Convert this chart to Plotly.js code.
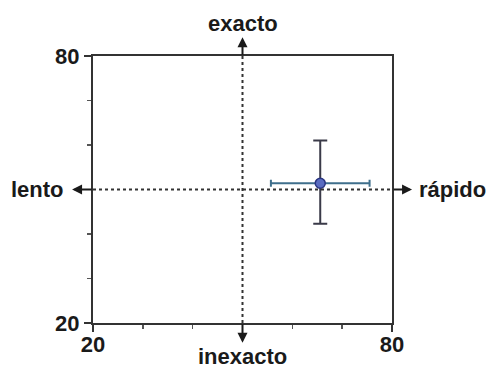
<!DOCTYPE html>
<html>
<head>
<meta charset="utf-8">
<script src="https://cdn.plot.ly/plotly-3.0.1.min.js"></script>
<style>html,body{margin:0;padding:0;background:#fff;}#chart{width:493px;height:368px;}</style>
</head>
<body>
<div id="chart"></div>
<script>
// Data
const speedValues = [65.6];
const accuracyValues = [51.4];
const speedErrPlus = [9.9];
const speedErrMinus = [9.9];
const accuracyErrPlus = [9.6];
const accuracyErrMinus = [9.1];
const axisTickValues = [20, 80];
const axisTickLabels = ['20', '80'];
const centerValue = 50;
const labelTop = 'exacto';
const labelBottom = 'inexacto';
const labelLeft = 'lento';
const labelRight = 'rápido';

const FONT = 'Liberation Sans, Arial, sans-serif';
const ink = '#1a1a1a';

const trace = {
  x: speedValues,
  y: accuracyValues,
  type: 'scatter',
  mode: 'markers',
  marker: {size: 10, color: '#5a6cc0', line: {color: '#2a3580', width: 1.5}},
  error_x: {type: 'data', symmetric: false, array: speedErrPlus, arrayminus: speedErrMinus,
            color: '#3f6f8c', thickness: 2, width: 3.5},
  error_y: {type: 'data', symmetric: false, array: accuracyErrPlus, arrayminus: accuracyErrMinus,
            color: '#3a3a48', thickness: 2, width: 7},
  hoverinfo: 'skip',
  showlegend: false
};

const axisBase = {
  range: [20, 80],
  tickmode: 'array',
  tickvals: axisTickValues,
  ticktext: axisTickLabels,
  ticks: 'outside',
  ticklen: 7,
  tickwidth: 2,
  tickcolor: '#333',
  showline: true,
  linecolor: '#333',
  linewidth: 2,
  mirror: true,
  showgrid: false,
  zeroline: false,
  fixedrange: true,
  tickfont: {family: FONT, size: 22, color: ink, weight: 'bold'},
  minor: {dtick: 10, tick0: 20, ticks: 'outside', ticklen: 4, tickwidth: 1.5, tickcolor: '#555', showgrid: false}
};

const layout = {
  width: 493,
  height: 368,
  margin: {l: 93, r: 101, t: 56, b: 45},
  paper_bgcolor: '#fff',
  plot_bgcolor: '#fff',
  xaxis: Object.assign({}, axisBase, {ticklabelstandoff: -6}),
  yaxis: Object.assign({}, axisBase, {ticklabelstandoff: 0}),
  shapes: [
    {type: 'line', xref: 'x', yref: 'paper', x0: centerValue, x1: centerValue, y0: 0, y1: 1,
     line: {color: '#333', width: 2, dash: 'dot'}},
    {type: 'line', xref: 'paper', yref: 'y', x0: 0, x1: 1, y0: centerValue, y1: centerValue,
     line: {color: '#333', width: 2, dash: 'dot'}}
  ],
  annotations: [
    // arrows
    {xref: 'x', yref: 'paper', x: centerValue, y: 1.07, ax: 0, ay: 19, text: '', showarrow: true,
     arrowhead: 2, arrowsize: 1, arrowwidth: 2, arrowcolor: ink},
    {xref: 'x', yref: 'paper', x: centerValue, y: -0.074, ax: 0, ay: -20, text: '', showarrow: true,
     arrowhead: 2, arrowsize: 1, arrowwidth: 2, arrowcolor: ink},
    {xref: 'paper', yref: 'y', x: -0.07, y: centerValue, ax: 21, ay: 0, text: '', showarrow: true,
     arrowhead: 2, arrowsize: 1, arrowwidth: 2, arrowcolor: ink},
    {xref: 'paper', yref: 'y', x: 1.067, y: centerValue, ax: -20, ay: 0, text: '', showarrow: true,
     arrowhead: 2, arrowsize: 1, arrowwidth: 2, arrowcolor: ink},
    // labels
    {xref: 'x', yref: 'paper', x: centerValue, y: 1.123, text: labelTop, showarrow: false,
     xanchor: 'center', yanchor: 'middle', font: {family: FONT, size: 22, color: ink, weight: 'bold'}},
    {xref: 'x', yref: 'paper', x: centerValue, y: -0.125, text: labelBottom, showarrow: false,
     xanchor: 'center', yanchor: 'middle', font: {family: FONT, size: 22, color: ink, weight: 'bold'}},
    {xref: 'paper', yref: 'y', x: -0.089, y: centerValue, text: labelLeft, showarrow: false,
     xanchor: 'right', yanchor: 'middle', font: {family: FONT, size: 22, color: ink, weight: 'bold'}},
    {xref: 'paper', yref: 'y', x: 1.085, y: centerValue, text: labelRight, showarrow: false,
     xanchor: 'left', yanchor: 'middle', font: {family: FONT, size: 22, color: ink, weight: 'bold'}}
  ]
};

Plotly.newPlot('chart', [trace], layout, {displayModeBar: false, staticPlot: true});
</script>
</body>
</html>
